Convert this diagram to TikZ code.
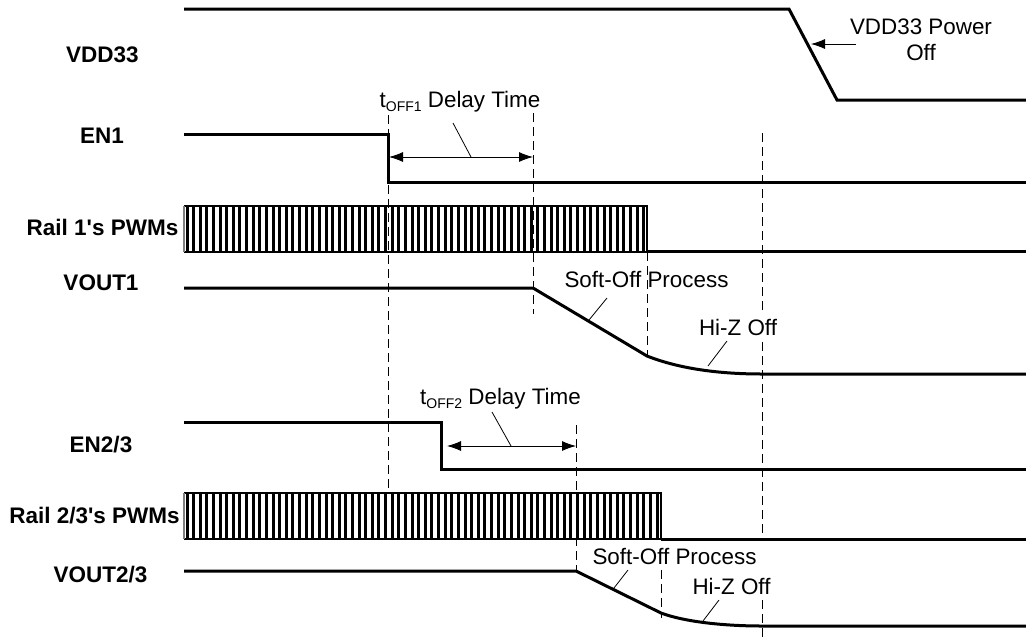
\documentclass[tikz,border=0pt]{standalone}
\usepackage{fontspec}
\setmainfont{Liberation Sans}[Ligatures=TeXOff]
\usetikzlibrary{arrows.meta}
\tikzset{
  sig/.style={line width=3pt,line join=miter},
  low/.style={line width=3pt},
  guide/.style={line width=0.8pt,dash pattern=on 9pt off 5pt},
  leader/.style={line width=0.8pt},
  dim/.style={line width=0.8pt,{Latex[length=14pt,width=10pt]}-{Latex[length=14pt,width=10pt]}},
  onearrow/.style={line width=0.8pt,{Latex[length=14pt,width=10pt]}-},
  lab/.style={font=\fontsize{22.4}{26.5}\selectfont,align=center,inner sep=0pt},
  sname/.style={font=\fontsize{22.5}{26}\selectfont\bfseries,inner sep=0pt},
  pulse/.style={line width=3pt},
  frame/.style={line width=1.4pt}
}
\newcommand{\subt}[1]{\raisebox{-3.5pt}{\fontsize{14}{14}\selectfont #1}}
\begin{document}
\begin{tikzpicture}[x=1pt,y=-1pt]
\useasboundingbox (0,0) rectangle (1026,638);
% coordinates
\coordinate (v0) at (184,9); \coordinate (v1) at (789,9); \coordinate (v2) at (837,100); \coordinate (v3) at (1026,100);
\coordinate (e0) at (184,134); \coordinate (e1) at (388,134); \coordinate (e2) at (388,182); \coordinate (e3) at (1026,182);
\coordinate (o0) at (184,288); \coordinate (o1) at (533,288); \coordinate (o2) at (647,356); \coordinate (o3) at (762,374); \coordinate (o4) at (1026,374);
\coordinate (f0) at (184,422); \coordinate (f1) at (441,422); \coordinate (f2) at (441,469); \coordinate (f3) at (1026,469);
\coordinate (q0) at (184,571); \coordinate (q1) at (576,571); \coordinate (q2) at (661,613); \coordinate (q3) at (762,626); \coordinate (q4) at (1026,626);
% guides
\draw[guide] (388,115) -- (388,488);
\draw[guide] (533,113) -- (533,314);
\draw[guide] (647,252) -- (647,357);
\draw[guide] (762,133) -- (762,313);
\draw[guide] (762,342) -- (762,540);
\draw[guide] (576,425) -- (576,571);
\draw[guide] (661,570) -- (661,618);
\draw[guide] (762,600) -- (762,638);
% pwms
\foreach \x in {187,193.62,...,646} \draw[pulse] (\x,206) -- (\x,252);
\draw[frame] (184,206) -- (647,206) -- (647,252);
\draw[line width=2.6pt] (184,252) -- (647,252);
\draw[line width=1.2pt,gray] (184,206) -- (184,252);
\foreach \x in {187,193.62,...,660} \draw[pulse] (\x,493) -- (\x,539);
\draw[frame] (184,493) -- (661,493) -- (661,539);
\draw[line width=2.6pt] (184,539) -- (661,539);
\draw[line width=1.2pt,gray] (184,493) -- (184,539);
% signals
\draw[sig] (v0) -- (v1) -- (v2) -- (v3);
\draw[sig] (e0) -- (e1) -- (e2) -- (e3);
\draw[sig] (o0) -- (o1) -- (o2) .. controls (680,369) and (720,374) .. (o3) -- (o4);
\draw[sig] (f0) -- (f1) -- (f2) -- (f3);
\draw[sig] (q0) -- (q1) -- (q2) .. controls (685,622) and (725,626) .. (q3) -- (q4);
\draw[low] (647,251) -- (1026,251);
\draw[low] (661,539) -- (1026,539);
% labels
\node[sname] (n1) at (102.5,55) {VDD33};
\node[sname] (n2) at (102,136) {EN1};
\node[sname] (n3) at (102.5,227) {Rail 1's PWMs};
\node[sname] (n4) at (101,283) {VOUT1};
\node[sname] (n5) at (101,445) {EN2/3};
\node[sname] (n6) at (94.5,516) {Rail 2/3's PWMs};
\node[sname] (n7) at (100.5,575) {VOUT2/3};
\node[lab] (t1) at (460,102) {t\subt{OFF1} Delay Time};
\node[lab] (t2) at (500.5,399) {t\subt{OFF2} Delay Time};
\node[lab] (s1) at (646.5,279) {Soft-Off Process};
\node[lab] (s2) at (674.5,556) {Soft-Off Process};
\node[lab] (h1) at (738,327) {Hi-Z Off};
\node[lab] (h2) at (731.5,586) {Hi-Z Off};
\node[lab] (p) at (921,40) {VDD33 Power\\Off};
% dimension arrows
\coordinate (a1) at (389,157); \coordinate (a2) at (533,157);
\coordinate (b1) at (447,446); \coordinate (b2) at (576,446);
\draw[dim] (a1) -- (a2);
\draw[dim] (b1) -- (b2);
\coordinate (c1) at (811,44); \coordinate (c2) at (856,44);
\draw[onearrow] (c1) -- (c2);
% leaders
\draw[leader] (453,123) -- (471,157);
\draw[leader] (492,412) -- (511,446);
\draw[leader] (607,298) -- (589,320);
\draw[leader] (628,570) -- (614,588);
\draw[leader] (727,341) -- (708,366);
\draw[leader] (719,600) -- (703,621);
\end{tikzpicture}
\end{document}
